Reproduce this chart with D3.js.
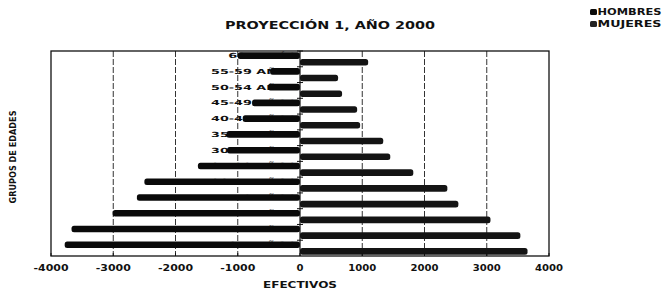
<!DOCTYPE html>
<html><head><meta charset="utf-8">
<script src="https://cdn.jsdelivr.net/npm/d3@7/dist/d3.min.js"></script>
<style>
html,body{margin:0;padding:0;background:#fff;}
svg{display:block;}
text{font-family:"DejaVu Sans",Arial,sans-serif;font-weight:bold;fill:#111;}
</style></head>
<body><svg id="c" width="669" height="290"></svg>
<script>
// ---- data ----
const ageGroups = ["0-4 AÑOS","5-9 AÑOS","10-14 AÑOS","15-19 AÑOS","20-24 AÑOS","25-29 AÑOS","30-34 AÑOS","35-39 AÑOS","40-44 AÑOS","45-49 AÑOS","50-54 AÑOS","55-59 AÑOS","60 Y MÁS"];
const hombres = [3780, 3670, 3010, 2620, 2500, 1640, 1170, 1180, 920, 770, 515, 480, 1000];
const mujeres = [3655, 3540, 3060, 2544, 2367, 1820, 1450, 1337, 966, 918, 676, 612, 1095];
const seriesNames = ["HOMBRES","MUJERES"];
const xTicks = [-4000,-3000,-2000,-1000,0,1000,2000,3000,4000];
const gridTicks = [-3000,-2000,-1000,1000,2000,3000];
const titleText = "PROYECCIÓN 1, AÑO 2000";
const xTitle = "EFECTIVOS";
const yTitle = "GRUPOS DE EDADES";

const svg = d3.select("#c");
const L = 51, R = 549, T = 51, B = 256;

const x = d3.scaleLinear().domain([-4000, 4000]).range([L, R]);
const y = d3.scaleBand().domain(ageGroups.slice().reverse()).range([T, B]).paddingInner(0.16).paddingOuter(0.08);
const ys = d3.scaleBand().domain(seriesNames).range([0, y.bandwidth()]);

// grid lines
svg.append("g").selectAll("line").data(gridTicks).join("line")
  .attr("x1", d => x(d)).attr("x2", d => x(d))
  .attr("y1", T).attr("y2", B)
  .attr("stroke", "#333").attr("stroke-width", 1).attr("stroke-dasharray", "6,2");

// frame
svg.append("rect").attr("x", L).attr("y", T).attr("width", R - L).attr("height", B - T)
  .attr("fill", "none").attr("stroke", "#111").attr("stroke-width", 1.3);

// category labels (drawn under bars, next to the zero axis)
svg.append("g").selectAll("text").data(ageGroups).join("text")
  .attr("x", x(0) - 3).attr("y", d => y(d) + ys("HOMBRES") + ys.bandwidth() / 2 + 2.5)
  .attr("text-anchor", "end").attr("font-size", 7)
  .attr("textLength", d => d.length * 8.6).attr("lengthAdjust", "spacingAndGlyphs")
  .text(d => d);

// bars
const rows = ageGroups.map((g, i) => ({g, h: hombres[i], m: mujeres[i]}));
const barG = svg.append("g");
barG.selectAll("rect.h").data(rows).join("rect").attr("class", "h")
  .attr("x", d => x(-d.h)).attr("width", d => x(0) - x(-d.h))
  .attr("y", d => y(d.g) + ys("HOMBRES")).attr("height", ys.bandwidth())
  .attr("rx", 2.5).attr("fill", "#0a0a0a");
barG.selectAll("rect.m").data(rows).join("rect").attr("class", "m")
  .attr("x", x(0)).attr("width", d => x(d.m) - x(0))
  .attr("y", d => y(d.g) + ys("MUJERES")).attr("height", ys.bandwidth())
  .attr("rx", 2.5).attr("fill", "#141414");

// zero axis
svg.append("line").attr("x1", x(0)).attr("x2", x(0)).attr("y1", T).attr("y2", B)
  .attr("stroke", "#111").attr("stroke-width", 1.2);
// category tick marks on zero axis
const bounds = ageGroups.map(g => y(g) - y.step() * y.paddingInner() / 2);
svg.append("g").selectAll("line").data(bounds).join("line")
  .attr("x1", x(0) - 3).attr("x2", x(0) + 3).attr("y1", d => d).attr("y2", d => d)
  .attr("stroke", "#111").attr("stroke-width", 1);

// x axis tick marks and labels
svg.append("g").selectAll("line").data(xTicks).join("line")
  .attr("x1", d => x(d)).attr("x2", d => x(d)).attr("y1", B - 3).attr("y2", B)
  .attr("stroke", "#111");
const fmt = d => d < 0 ? "-" + Math.abs(d) : String(d);
svg.append("g").selectAll("text").data(xTicks).join("text")
  .attr("x", d => x(d)).attr("y", 271)
  .attr("text-anchor", "middle").attr("font-size", 8)
  .attr("textLength", d => fmt(d).length === 1 ? 7 : fmt(d).length * 7)
  .attr("lengthAdjust", "spacingAndGlyphs")
  .text(fmt);

// titles
svg.append("text").attr("x", 330).attr("y", 29).attr("text-anchor", "middle")
  .attr("font-size", 10).attr("textLength", 210).attr("lengthAdjust", "spacingAndGlyphs")
  .text(titleText);
svg.append("text").attr("x", 300).attr("y", 288).attr("text-anchor", "middle")
  .attr("font-size", 8).attr("textLength", 74).attr("lengthAdjust", "spacingAndGlyphs")
  .text(xTitle);
svg.append("text").attr("transform", "translate(16,157) rotate(-90)").attr("text-anchor", "middle")
  .attr("font-family", "'Liberation Sans Narrow','Liberation Sans',Arial,sans-serif")
  .attr("font-size", 9.5).attr("textLength", 93).attr("lengthAdjust", "spacingAndGlyphs")
  .text(yTitle);

// legend
const leg = svg.append("g").selectAll("g").data(seriesNames).join("g")
  .attr("transform", (d, i) => `translate(590,${9 + i * 12})`);
leg.append("rect").attr("width", 7).attr("height", 6).attr("rx", 1.5)
  .attr("fill", (d, i) => i === 0 ? "#0a0a0a" : "#222");
leg.append("text").attr("x", 7.5).attr("y", 6).attr("font-size", 8)
  .attr("textLength", 64).attr("lengthAdjust", "spacingAndGlyphs").text(d => d);
</script></body></html>
